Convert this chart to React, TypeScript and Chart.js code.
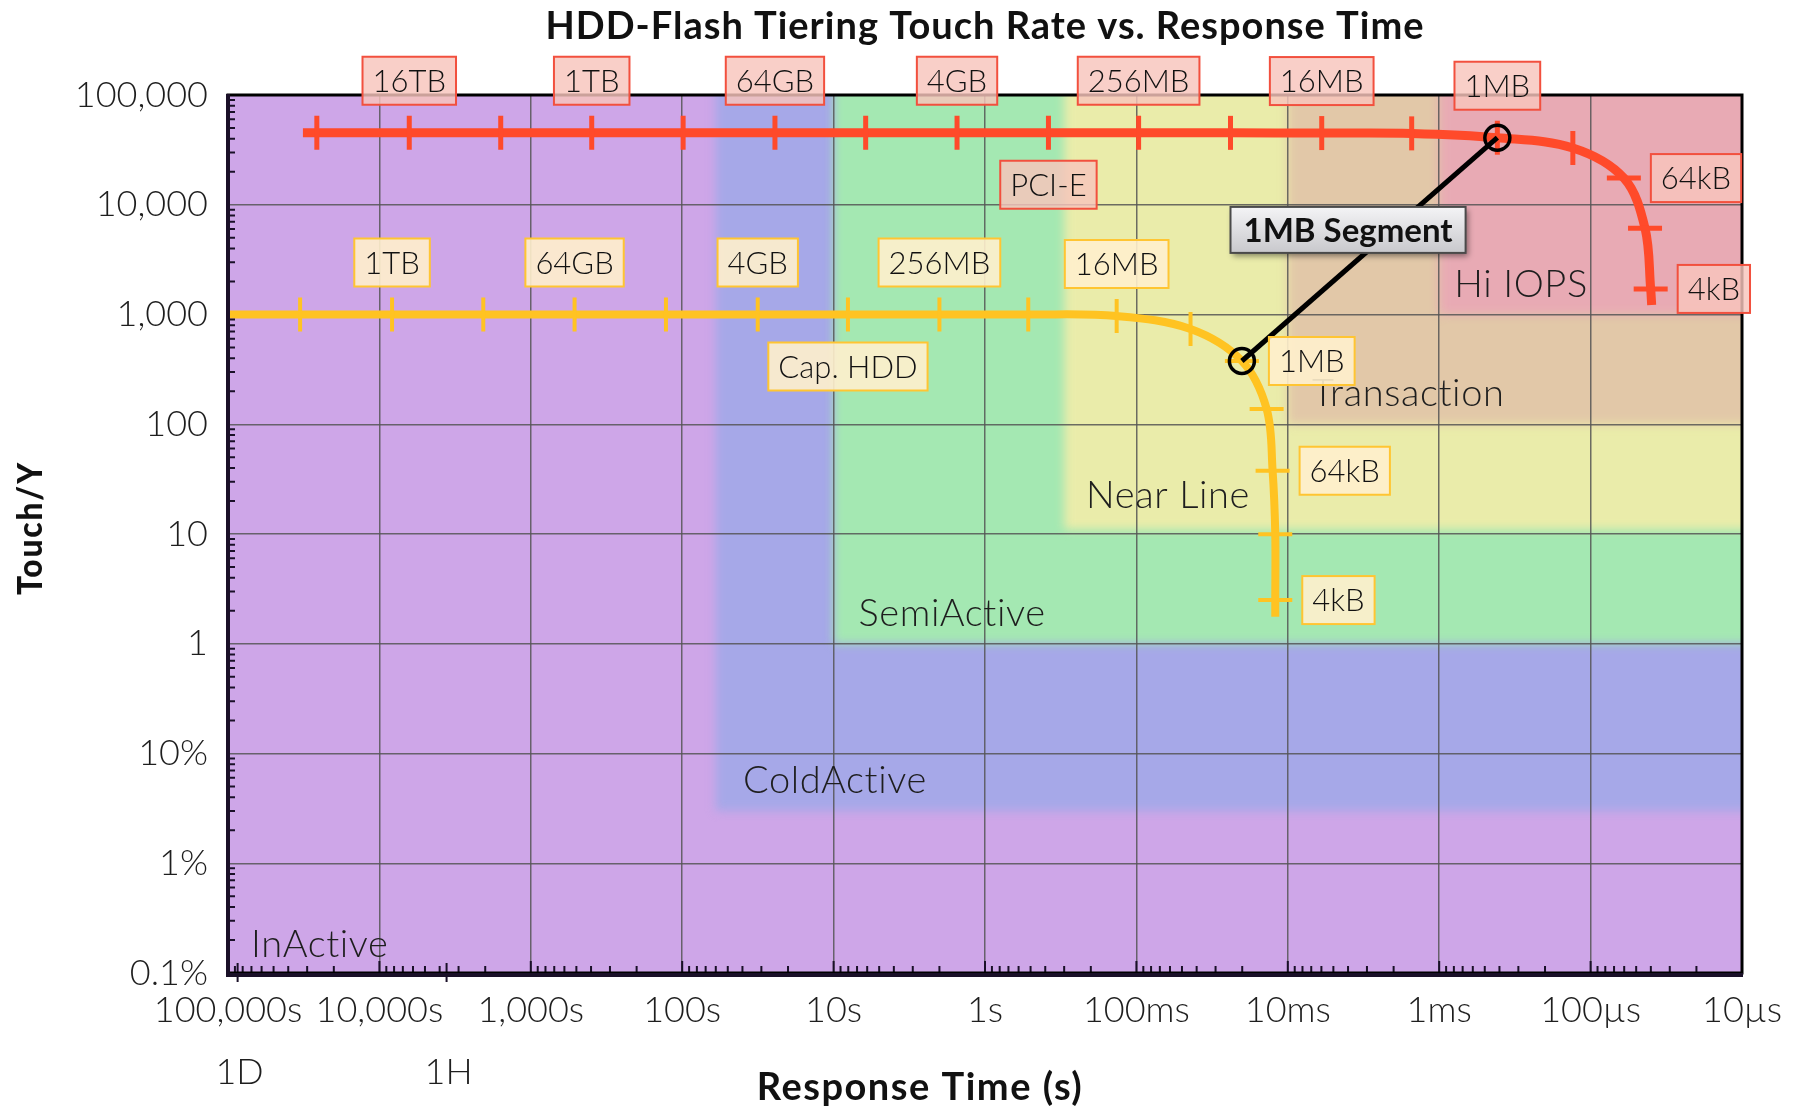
import React, { useEffect, useRef } from 'react';
import { Chart, registerables } from 'chart.js';

Chart.register(...registerables);

const W = 1806;
const H = 1110;
const FONT = 'Lato, "Open Sans", "DejaVu Sans", sans-serif';

const TITLE = 'HDD-Flash Tiering Touch Rate vs. Response Time';
const X_TITLE = 'Response Time (s)';
const Y_TITLE = 'Touch/Y';

const X_TICK_VALUES = [1e5, 1e4, 1e3, 100, 10, 1, 0.1, 0.01, 0.001, 1e-4, 1e-5];
const X_TICK_LABELS = ['100,000s', '10,000s', '1,000s', '100s', '10s', '1s', '100ms', '10ms', '1ms', '100µs', '10µs'];
const Y_TICK_VALUES = [1e-3, 1e-2, 0.1, 1, 10, 100, 1e3, 1e4, 1e5];
const Y_TICK_LABELS = ['0.1%', '1%', '10%', '1', '10', '100', '1,000', '10,000', '100,000'];
const MARK_LABELS = ['1D', '1H'];
const MARK_SECONDS = [86400, 3600];

// PCI-E flash curve ('' = line end without a size tick)
const FLASH_NAME = 'PCI-E';
const FLASH_SIZES = ['', '64TB', '16TB', '4TB', '1TB', '256GB', '64GB', '16GB', '4GB', '1GB', '256MB', '64MB', '16MB', '4MB', '1MB', '256kB', '64kB', '16kB', '4kB', ''];
const FLASH_TIME = [32000, 25900, 6350, 1580, 396, 98.6, 24.4, 6.14, 1.53, 0.381, 0.0967, 0.0239, 0.00597, 0.00152, 0.000413, 0.000131, 0.0000603, 0.0000437, 0.0000401, 0.0000395];
const FLASH_TOUCH = [45300, 45300, 45300, 45300, 45300, 45300, 45300, 45300, 45300, 45300, 45300, 45200, 45000, 44700, 40800, 32900, 17500, 6100, 1710, 1220];
const FLASH_LABELS_ABOVE = ['16TB', '1TB', '64GB', '4GB', '256MB', '16MB', '1MB'];
const FLASH_LABELS_RIGHT = ['64kB', '4kB'];
const FLASH_NAME_AT = '1GB';

// Capacity HDD curve
const HDD_NAME = 'Cap. HDD';
const HDD_SIZES = ['', '4TB', '1TB', '256GB', '64GB', '16GB', '4GB', '1GB', '256MB', '64MB', '16MB', '4MB', '1MB', '256kB', '64kB', '16kB', '4kB', ''];
const HDD_TIME = [100000, 33400, 8250, 2060, 514, 128, 31.7, 8.04, 2.0, 0.518, 0.135, 0.0439, 0.0201, 0.0138, 0.0126, 0.0121, 0.0121, 0.0121];
const HDD_TOUCH = [1000, 1000, 1000, 1000, 1000, 1000, 1000, 1000, 1000, 1000, 969, 738, 377, 138, 37.7, 9.93, 2.5, 1.76];
const HDD_LABELS_ABOVE = ['1TB', '64GB', '4GB', '256MB', '16MB'];
const HDD_LABELS_RIGHT = ['1MB', '64kB', '4kB'];
const HDD_NAME_AT = '1GB';

const SEGMENT_LABEL = '1MB Segment';
const SEGMENT_SIZE = '1MB';
const SEGMENT_LABEL_AT = { x: 0.0040, y: 5900 };

// Activity zones: each spans from its slowest response time to 10µs, and from its min touch rate to the top
const ZONE_NAMES = ['InActive', 'ColdActive', 'SemiActive', 'Near Line', 'Transaction', 'Hi IOPS'];
const ZONE_SLOWEST = [1e5, 60, 10, 0.3, 0.01, 0.001];
const ZONE_MIN_TOUCH = [1e-3, 0.03, 1, 11, 100, 1000];
const ZONE_LABEL_TIME = [70500, 9.8, 1.65, 0.0618, 0.0016, 0.000288];
const ZONE_LABEL_TOUCH = [0.0018, 0.056, 1.87, 22.2, 188.6, 1877];
const ZONE_COLORS = ['#CEA6E8', '#A6A8E8', '#A4E8B2', '#EAECAA', '#E2C8A8', '#E8AAB4'];
const ZONE_ALIGN = ['left', 'center', 'center', 'center', 'center', 'center'];

const RED = '#FF4A2A';
const YELLOW = '#FFC322';

function toPoints(times: number[], touches: number[]) {
  return times.map((t, i) => ({ x: t, y: touches[i] }));
}

// size ticks: vertical across flat parts of a curve, horizontal across steep parts
function tickRotation(ctx: any) {
  if (ctx.type !== 'data') return 0;
  const xs = ctx.chart.scales.x;
  const ys = ctx.chart.scales.y;
  const data = ctx.dataset.data;
  const i = ctx.dataIndex;
  const a = data[Math.max(0, i - 1)];
  const b = data[Math.min(data.length - 1, i + 1)];
  const dx = Math.abs(xs.getPixelForValue(b.x) - xs.getPixelForValue(a.x));
  const dy = Math.abs(ys.getPixelForValue(b.y) - ys.getPixelForValue(a.y));
  return dy > dx ? 0 : 90;
}

function labelFor(values: number[], labels: string[], v: number) {
  let best = 0;
  let bd = Infinity;
  values.forEach((x, i) => {
    const d = Math.abs(Math.log10(x) - Math.log10(v));
    if (d < bd) { bd = d; best = i; }
  });
  return labels[best];
}

function drawBox(ctx: CanvasRenderingContext2D, text: string, x: number, cy: number, anchor: 'center' | 'left', fill: string, stroke: string) {
  ctx.font = `300 31px ${FONT}`;
  const w = ctx.measureText(text).width + 20;
  const h = 48;
  const left = anchor === 'center' ? x - w / 2 : x;
  ctx.fillStyle = fill;
  ctx.fillRect(left, cy - h / 2, w, h);
  ctx.strokeStyle = stroke;
  ctx.lineWidth = 2;
  ctx.strokeRect(left, cy - h / 2, w, h);
  ctx.fillStyle = '#111';
  ctx.textAlign = 'center';
  ctx.textBaseline = 'middle';
  ctx.fillText(text, left + w / 2, cy + 1);
}

function curveLabels(chart: any, sizes: string[], times: number[], touches: number[], above: string[], right: string[], name: string, nameAt: string, fill: string, stroke: string) {
  const { ctx } = chart;
  const xs = chart.scales.x;
  const ys = chart.scales.y;
  const pos = (s: string) => {
    const i = sizes.indexOf(s);
    return { x: xs.getPixelForValue(times[i]), y: ys.getPixelForValue(touches[i]) };
  };
  above.forEach((s) => { const p = pos(s); drawBox(ctx, s, p.x, p.y - 52, 'center', fill, stroke); });
  right.forEach((s) => { const p = pos(s); drawBox(ctx, s, p.x + 27, p.y, 'left', fill, stroke); });
  const n = pos(nameAt);
  drawBox(ctx, name, n.x, n.y + 52, 'center', fill, stroke);
}

const overlay = {
  id: 'overlay',
  beforeDraw(chart: any) {
    const { ctx, chartArea: a } = chart;
    const xs = chart.scales.x;
    const ys = chart.scales.y;
    ctx.save();
    ctx.fillStyle = '#ffffff';
    ctx.fillRect(0, 0, chart.width, chart.height);
    ctx.beginPath();
    ctx.rect(a.left, a.top, a.right - a.left, a.bottom - a.top);
    ctx.clip();
    ctx.fillStyle = ZONE_COLORS[0];
    ctx.fillRect(a.left, a.top, a.right - a.left, a.bottom - a.top);
    ctx.filter = 'blur(5px)';
    for (let i = 1; i < ZONE_NAMES.length; i++) {
      const x0 = xs.getPixelForValue(ZONE_SLOWEST[i]);
      const y1 = ys.getPixelForValue(ZONE_MIN_TOUCH[i]);
      ctx.fillStyle = ZONE_COLORS[i];
      ctx.fillRect(x0, a.top - 40, a.right + 40 - x0, y1 - a.top + 40);
    }
    ctx.restore();
  },
  beforeDatasetsDraw(chart: any) {
    const { ctx } = chart;
    const xs = chart.scales.x;
    const ys = chart.scales.y;
    ctx.save();
    ctx.font = `300 38px ${FONT}`;
    (ctx as any).letterSpacing = '0.6px';
    ctx.fillStyle = '#1e1e1e';
    ctx.textBaseline = 'middle';
    ZONE_NAMES.forEach((n, i) => {
      ctx.textAlign = ZONE_ALIGN[i];
      ctx.fillText(n, xs.getPixelForValue(ZONE_LABEL_TIME[i]), ys.getPixelForValue(ZONE_LABEL_TOUCH[i]));
    });
    ctx.restore();
  },
  afterDatasetsDraw(chart: any) {
    const { ctx, chartArea: a } = chart;
    const xs = chart.scales.x;
    const ys = chart.scales.y;
    ctx.save();
    // minor ticks
    ctx.strokeStyle = '#1a1028';
    ctx.lineWidth = 2;
    ctx.beginPath();
    for (let e = -5; e <= 4; e++) {
      for (let k = 1; k <= 9; k++) {
        const px = xs.getPixelForValue(k * Math.pow(10, e));
        const len = k === 1 ? 12 : 7;
        ctx.moveTo(px, a.bottom);
        ctx.lineTo(px, a.bottom - len);
      }
    }
    for (let e = -3; e <= 4; e++) {
      for (let k = 2; k <= 9; k++) {
        const py = ys.getPixelForValue(k * Math.pow(10, e));
        ctx.moveTo(a.left, py);
        ctx.lineTo(a.left + 7, py);
      }
    }
    MARK_SECONDS.forEach((s) => {
      const px = xs.getPixelForValue(s);
      ctx.moveTo(px, a.bottom - 10);
      ctx.lineTo(px, a.bottom + 9);
    });
    ctx.stroke();
    // frame
    ctx.strokeStyle = '#000';
    ctx.lineWidth = 3;
    ctx.strokeRect(a.left, a.top, a.right - a.left, a.bottom - a.top);
    ctx.strokeStyle = '#1a1028';
    ctx.lineWidth = 4;
    ctx.beginPath();
    ctx.moveTo(a.left, a.top - 1);
    ctx.lineTo(a.left, a.bottom + 2);
    ctx.lineTo(a.right + 1, a.bottom + 2);
    ctx.stroke();

    curveLabels(chart, FLASH_SIZES, FLASH_TIME, FLASH_TOUCH, FLASH_LABELS_ABOVE, FLASH_LABELS_RIGHT, FLASH_NAME, FLASH_NAME_AT, 'rgba(248,196,188,0.82)', '#F2503E');
    curveLabels(chart, HDD_SIZES, HDD_TIME, HDD_TOUCH, HDD_LABELS_ABOVE, HDD_LABELS_RIGHT, HDD_NAME, HDD_NAME_AT, 'rgba(255,240,204,0.9)', '#FFC532');

    // segment label
    const cx = xs.getPixelForValue(SEGMENT_LABEL_AT.x);
    const cy = ys.getPixelForValue(SEGMENT_LABEL_AT.y);
    ctx.font = `bold 33px ${FONT}`;
    const w = ctx.measureText(SEGMENT_LABEL).width + 26;
    const h = 46;
    ctx.save();
    ctx.shadowColor = 'rgba(0,0,0,0.45)';
    ctx.shadowBlur = 6;
    ctx.shadowOffsetX = 2;
    ctx.shadowOffsetY = 3;
    const g = ctx.createLinearGradient(0, cy - h / 2, 0, cy + h / 2);
    g.addColorStop(0, '#f4f4f6');
    g.addColorStop(1, '#c8c8cc');
    ctx.fillStyle = g;
    ctx.fillRect(cx - w / 2, cy - h / 2, w, h);
    ctx.restore();
    ctx.strokeStyle = '#4a4a4a';
    ctx.lineWidth = 2;
    ctx.strokeRect(cx - w / 2, cy - h / 2, w, h);
    ctx.fillStyle = '#111';
    ctx.textAlign = 'center';
    ctx.textBaseline = 'middle';
    ctx.fillText(SEGMENT_LABEL, cx, cy + 1);
    ctx.restore();
  },
  afterDraw(chart: any) {
    const { ctx, chartArea: a } = chart;
    const xs = chart.scales.x;
    ctx.save();
    ctx.fillStyle = '#111';
    ctx.textAlign = 'center';
    ctx.textBaseline = 'middle';
    ctx.font = `bold 38px ${FONT}`;
    (ctx as any).letterSpacing = '1px';
    ctx.fillText(TITLE, (a.left + a.right) / 2, 27);
    ctx.font = `bold 38px ${FONT}`;
    (ctx as any).letterSpacing = '1.5px';
    ctx.fillText(X_TITLE, 920, 1088);
    // y-axis title: wide heavy lettering, stretched along its run
    (ctx as any).letterSpacing = '2px';
    ctx.font = `900 34px ${FONT}`;
    const tw = ctx.measureText(Y_TITLE).width;
    const sx = tw > 0 ? 134 / tw : 1;
    ctx.save();
    ctx.translate(31, (a.top + a.bottom) / 2 - 6);
    ctx.rotate(-Math.PI / 2);
    ctx.scale(sx, 1);
    ctx.fillText(Y_TITLE, 0, 0);
    ctx.restore();
    (ctx as any).letterSpacing = '0px';
    ctx.font = `300 36px ${FONT}`;
    ctx.fillStyle = '#1e1e1e';
    MARK_LABELS.forEach((l, i) => {
      ctx.fillText(l, xs.getPixelForValue(MARK_SECONDS[i]) + 2, 1072);
    });
    ctx.restore();
  },
};

export default function App() {
  const ref = useRef<HTMLCanvasElement>(null);
  useEffect(() => {
    if (!ref.current) return;
    const flashRadius = FLASH_SIZES.map((s) => (s ? 17 : 0));
    const hddRadius = HDD_SIZES.map((s) => (s ? 17 : 0));
    const fi = FLASH_SIZES.indexOf(SEGMENT_SIZE);
    const hi = HDD_SIZES.indexOf(SEGMENT_SIZE);
    const chart = new Chart(ref.current, {
      type: 'line',
      data: {
        datasets: [
          {
            label: SEGMENT_LABEL,
            data: [{ x: HDD_TIME[hi], y: HDD_TOUCH[hi] }, { x: FLASH_TIME[fi], y: FLASH_TOUCH[fi] }],
            borderColor: '#000',
            borderWidth: 5,
            tension: 0,
            pointStyle: 'circle',
            pointRadius: 12.5,
            pointBorderWidth: 3.5,
            pointBorderColor: '#000',
            pointBackgroundColor: 'rgba(0,0,0,0)',
          },
          {
            label: FLASH_NAME,
            data: toPoints(FLASH_TIME, FLASH_TOUCH),
            borderColor: RED,
            borderWidth: 9,
            tension: 0.35,
            borderCapStyle: 'butt',
            pointStyle: 'line',
            pointRadius: flashRadius,
            pointBorderColor: RED,
            pointBorderWidth: 5,
            pointRotation: tickRotation,
          },
          {
            label: HDD_NAME,
            data: toPoints(HDD_TIME, HDD_TOUCH),
            borderColor: YELLOW,
            borderWidth: 8,
            tension: 0.35,
            borderCapStyle: 'butt',
            pointStyle: 'line',
            pointRadius: hddRadius,
            pointBorderColor: YELLOW,
            pointBorderWidth: 4,
            pointRotation: tickRotation,
          },
        ],
      } as any,
      options: {
        animation: false,
        responsive: false,
        devicePixelRatio: 1,
        events: [],
        layout: { padding: { top: 95, right: 64, left: 0, bottom: 0 } },
        plugins: { legend: { display: false }, title: { display: false }, tooltip: { enabled: false } },
        scales: {
          x: {
            type: 'logarithmic',
            reverse: true,
            min: 1e-5,
            max: 1e5,
            afterBuildTicks: (s: any) => { s.ticks = X_TICK_VALUES.map((v) => ({ value: v, major: true })); },
            afterFit: (s: any) => { s.height = 137; },
            grid: { color: 'rgba(85,85,85,0.85)', lineWidth: 1.5, drawTicks: false },
            border: { display: false },
            ticks: {
              autoSkip: false,
              maxRotation: 0,
              padding: 16,
              color: '#1e1e1e',
              font: { family: FONT, size: 36, weight: '300' },
              callback: (v: any) => labelFor(X_TICK_VALUES, X_TICK_LABELS, Number(v)),
            },
          },
          y: {
            type: 'logarithmic',
            min: 1e-3,
            max: 1e5,
            afterBuildTicks: (s: any) => { s.ticks = Y_TICK_VALUES.map((v) => ({ value: v, major: true })); },
            afterFit: (s: any) => { s.width = 228; },
            grid: { color: 'rgba(85,85,85,0.85)', lineWidth: 1.5, drawTicks: false },
            border: { display: false },
            ticks: {
              autoSkip: false,
              padding: 20,
              color: '#1e1e1e',
              font: { family: FONT, size: 36, weight: '300' },
              callback: (v: any) => labelFor(Y_TICK_VALUES, Y_TICK_LABELS, Number(v)),
            },
          },
        },
      } as any,
      plugins: [overlay],
    });
    return () => chart.destroy();
  }, []);
  return (
    <div style={{ position: 'absolute', left: 0, top: 0, width: W, height: H, background: '#fff' }}>
      <canvas ref={ref} width={W} height={H} style={{ width: W, height: H, display: 'block' }} />
    </div>
  );
}
